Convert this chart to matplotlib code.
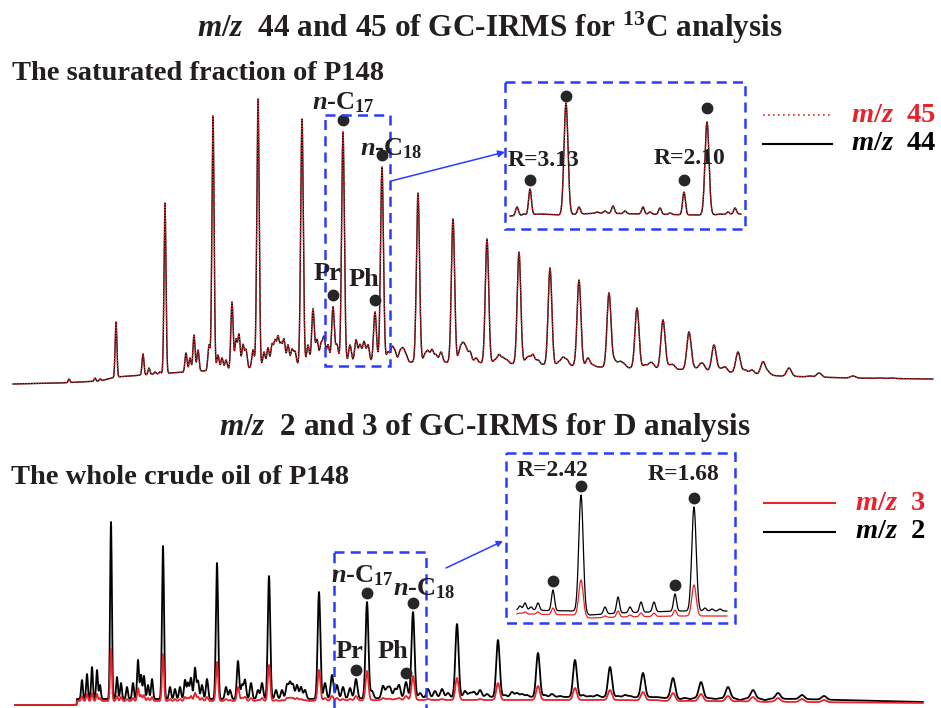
import numpy as np
import matplotlib
matplotlib.use("Agg")
import matplotlib.pyplot as plt
from matplotlib.patches import Rectangle, FancyArrowPatch

plt.rcParams['font.family'] = ['Liberation Serif', 'DejaVu Serif']
plt.rcParams['mathtext.fontset'] = 'custom'
plt.rcParams['mathtext.rm'] = 'Liberation Serif:bold'
plt.rcParams['mathtext.it'] = 'Liberation Serif:italic:bold'
plt.rcParams['mathtext.bf'] = 'Liberation Serif:bold'

W, H = 941, 708

# ---------------- DATA (retention in scan units, intensity in counts) -------------
# Top: m/z 44 / 45 chromatogram of saturated fraction
top_base_rt = [13, 60, 100, 116, 170, 250, 300, 350, 420, 490, 560, 600, 700, 780, 850, 932]
top_base_int = [6, 7, 9, 13, 17, 22, 25, 27, 28, 27, 25, 23, 20, 14, 12, 11]
top_major_rt = [116, 165, 213, 258, 302, 343, 382, 418, 453, 487, 519, 550, 579, 609,
                637, 663, 689, 714, 738, 763, 789, 819, 853, 892]
top_major_int = [68, 187, 274, 291, 271, 258, 223, 197, 171, 151, 138, 122, 110, 97,
                 82, 70, 58, 45, 38, 28, 22, 17, 14, 12]
top_minor_rt = [69, 95, 100, 143, 149, 155, 160, 186, 190, 194, 198, 209, 218, 222, 226,
                232, 236, 239, 243, 246, 253, 264, 268, 272, 275, 278, 281, 284, 288, 292,
                295, 308, 313, 317, 321, 324, 328, 333, 337, 350, 356, 360, 364, 368, 375,
                388, 392, 395, 400, 403, 406, 425, 428, 432, 436, 441, 460, 463, 466, 470,
                476, 495, 499, 503, 507, 526, 529, 533, 538, 559, 563, 567, 588, 593, 614,
                616, 620, 624, 645, 650, 653, 669, 673, 694, 700, 703, 720, 725, 745, 752,
                768, 810, 880]
top_minor_int = [11, 12, 11, 36, 22, 18, 18, 37, 32, 55, 40, 45, 35, 32, 30,
                 88, 50, 55, 45, 40, 40, 38, 42, 45, 48, 52, 45, 50, 45, 40,
                 38, 45, 81, 50, 45, 52, 45, 83, 45, 45, 50, 45, 48, 45, 78,
                 38, 42, 38, 38, 40, 35, 35, 38, 40, 35, 38, 40, 43, 40, 38,
                 32, 30, 35, 32, 30, 30, 32, 35, 30, 28, 32, 30, 32, 25, 28,
                 25, 28, 26, 25, 26, 25, 24, 25, 22, 24, 25, 21, 23, 20, 20,
                 18, 14, 12]

# Top inset (n-C17 / n-C18 zoom, m/z 44 and 45)
ti_base_rt = [510, 540, 560, 600, 640, 700, 740]
ti_base_int = [13, 15, 14, 16, 15, 14, 15]
ti_peak_rt = [517, 524, 530, 566, 579, 597, 605, 613, 625, 643, 650, 660, 670, 684, 707, 720, 728, 735]
ti_peak_int = [22, 15, 40, 126, 22, 17, 18, 23, 18, 22, 17, 21, 16, 37, 107, 15, 17, 21]

# Bottom: m/z 2 / 3 chromatogram of whole crude oil
bot_base_rt = [15, 76.5, 77, 100, 200, 300, 400, 470, 600, 700, 800, 920]
bot2_base_int = [0, 0, 6, 6, 6, 6, 7, 8, 8, 7, 6, 3]
bot3_base_int = [0, 0, 4, 4, 4, 4, 5, 5, 5, 4, 3, 2]
bot_major_rt = [111, 163, 217, 269, 319, 367, 413, 457, 498, 538, 575, 610, 643, 673,
                701, 728, 753, 778, 802, 824]
bot2_major_int = [183, 159, 142, 129, 113, 103, 93, 81, 65, 52, 45, 38, 32, 27,
                  23, 18, 15, 12, 10, 9]
bot3_major_int = [56, 51, 43, 40, 35, 34, 29, 27, 22, 19, 17, 15, 13, 12,
                  11, 9, 8, 7, 6, 5]
bot_minor_rt = [82, 87, 92, 97, 100, 117, 121, 127, 133, 138, 141, 144, 148, 152, 170,
                175, 180, 185, 188, 191, 195, 198, 202, 207, 226, 230, 238, 242, 245, 251,
                258, 262, 276, 282, 287, 290, 293, 297, 301, 305, 325, 332, 337, 343, 350,
                356, 372, 383, 387, 390, 395, 399, 406, 420, 428, 435, 442, 448, 465, 470,
                474, 480, 487, 505, 512, 517, 522, 527, 545, 552, 560, 583, 590, 597, 618,
                625, 630, 650, 656, 665, 680, 690, 715, 740, 765]
bot2_minor_int = [25, 31, 38, 35, 20, 28, 22, 18, 22, 45, 30, 29, 20, 26, 18,
                  16, 18, 25, 22, 27, 37, 24, 20, 26, 18, 15, 44, 20, 25, 22,
                  15, 22, 15, 15, 20, 22, 20, 20, 18, 15, 22, 30, 20, 18, 17,
                  26, 14, 19, 16, 17, 16, 20, 23, 12, 16, 14, 16, 12, 14, 12,
                  13, 15, 11, 10, 13, 12, 11, 10, 10, 11, 9, 10, 9, 10, 9,
                  10, 9, 8, 8, 7, 6, 6, 6, 5, 5]
bot3_minor_int = [9, 11, 12, 11, 7, 9, 8, 6, 7, 17, 10, 10, 7, 8, 6,
                  6, 6, 8, 7, 9, 12, 8, 7, 8, 6, 5, 18, 7, 8, 7,
                  5, 7, 5, 5, 7, 7, 7, 7, 6, 5, 7, 9, 7, 6, 6,
                  9, 5, 7, 6, 6, 6, 7, 9, 5, 6, 5, 6, 5, 5, 5,
                  5, 6, 5, 5, 5, 5, 5, 5, 5, 5, 5, 5, 5, 5, 5,
                  5, 5, 5, 5, 4, 4, 4, 4, 4, 3]

# Bottom inset (n-C17 / n-C18 zoom, m/z 2 and 3)
bi_base_rt = [517, 575, 590, 620, 680, 726]
bi2_base_int = [10, 9, 5, 7, 9, 9]
bi3_base_int = [6, 5, 2, 3, 4, 4]
bi_peak_rt = [520, 525, 531, 538, 553, 581, 605, 618, 630, 641, 654, 675, 694, 705, 712, 720]
bi2_peak_int = [14, 17, 13, 17, 30, 125, 13, 23, 13, 18, 18, 26, 113, 12, 11, 11]
bi3_peak_int = [7, 8, 6, 8, 12, 40, 4, 9, 5, 7, 7, 10, 35, 4, 4, 4]

RED = '#e8232b'
BLUE = '#2a3cff'
DOT = '#262626'


def trace(x, brt, bint, prt, pint, sig):
    y = np.interp(x, brt, bint).astype(float)
    for p, h in zip(prt, pint):
        amp = h - np.interp(p, brt, bint)
        s = sig(p)
        y += amp * np.exp(-0.5 * ((x - p) / s) ** 2)
    return y


def panel(x0, x1, yt, yb, y0):
    """axes occupying pixel box; x data = scan units, y data = intensity (y0 - pixel row)."""
    ax = fig.add_axes([x0 / W, 1 - yb / H, (x1 - x0) / W, (yb - yt) / H])
    ax.set_xlim(x0, x1)
    ax.set_ylim(y0 - yb, y0 - yt)
    ax.axis('off')
    ax.patch.set_alpha(0)
    return ax


fig = plt.figure(figsize=(W / 100, H / 100), dpi=100)

main_sig = lambda p: 0.85 + 0.0022 * max(p - 100, 0)

# ---------------- top chromatogram ----------------
axt = panel(0, W, 80, 395, 390)
xt = np.arange(13, 933, 0.2)
yt = trace(xt, top_base_rt, top_base_int,
           list(top_major_rt) + list(top_minor_rt), list(top_major_int) + list(top_minor_int),
           main_sig)
axt.plot(xt, yt, color='black', lw=1.0, zorder=2)
axt.plot(xt, yt, color=RED, lw=1.0, ls=(0, (1, 1)), zorder=3)
for rt in (333, 343, 375, 382):
    h = np.interp(rt, xt, yt)
    axt.plot(rt, h + 12, 'o', color=DOT, ms=7.5, zorder=5)

# ---------------- top inset ----------------
axi = panel(505, 745, 82, 229, 229)
xi = np.arange(510, 741, 0.2)
yi = trace(xi, ti_base_rt, ti_base_int, ti_peak_rt, ti_peak_int,
           lambda p: 2.0 if p in (566, 707) else 1.4)
axi.plot(xi, yi, color='black', lw=1.0, zorder=2)
axi.plot(xi, yi, color=RED, lw=1.0, ls=(0, (1, 1)), zorder=3)
for rt, off in ((530, 9), (566, 7), (684, 12), (707, 14)):
    h = np.interp(rt, xi, yi)
    axi.plot(rt, h + off, 'o', color=DOT, ms=7.5, zorder=5)

# ---------------- bottom chromatogram ----------------
axb = panel(0, W, 440, 708, 705)
xb = np.arange(15, 923, 0.2)
yb2 = trace(xb, bot_base_rt, bot2_base_int,
            list(bot_major_rt) + list(bot_minor_rt), list(bot2_major_int) + list(bot2_minor_int),
            main_sig)
yb3 = trace(xb, bot_base_rt, bot3_base_int,
            list(bot_major_rt) + list(bot_minor_rt), list(bot3_major_int) + list(bot3_minor_int),
            main_sig)
axb.plot(xb, yb2, color='black', lw=1.3, zorder=2)
axb.plot(xb, yb3, color=RED, lw=1.3, zorder=3)
for rt in (356, 367, 406, 413):
    h = np.interp(rt, xb, yb2)
    axb.plot(rt, h + 9, 'o', color=DOT, ms=7.5, zorder=5)

# ---------------- bottom inset ----------------
axj = panel(506, 735, 453, 623, 620)
xj = np.arange(517, 727, 0.2)
yj2 = trace(xj, bi_base_rt, bi2_base_int, bi_peak_rt, bi2_peak_int,
            lambda p: 2.2 if p in (581, 694) else 1.5)
yj3 = trace(xj, bi_base_rt, bi3_base_int, bi_peak_rt, bi3_peak_int,
            lambda p: 2.2 if p in (581, 694) else 1.5)
axj.plot(xj, yj2, color='black', lw=0.9, zorder=2)
axj.plot(xj, yj3, color=RED, lw=0.9, zorder=3)
for rt in (553, 581, 675, 694):
    h = np.interp(rt, xj, yj2)
    axj.plot(rt, h + 9, 'o', color=DOT, ms=7.5, zorder=5)

# ---------------- overlay for annotations (pixel coordinates) ----------------
ov = fig.add_axes([0, 0, 1, 1])
ov.set_xlim(0, W)
ov.set_ylim(H, 0)
ov.axis('off')
ov.patch.set_alpha(0)

dash = dict(fill=False, ec=BLUE, lw=1.8, ls=(0, (4, 2.5)), zorder=6)
ov.add_patch(Rectangle((325, 115), 65, 251, **dash))
ov.add_patch(Rectangle((505, 82), 240, 147, **dash))
ov.add_patch(Rectangle((334, 552), 92, 170, **dash))
ov.add_patch(Rectangle((506, 453), 229, 170, **dash))
ov.add_patch(FancyArrowPatch((391, 181), (505, 152), arrowstyle='-|>', mutation_scale=10,
                             color=BLUE, lw=1.1, shrinkA=0, shrinkB=0, zorder=6))
ov.add_patch(FancyArrowPatch((446, 568), (503, 541), arrowstyle='-|>', mutation_scale=9,
                             color=BLUE, lw=1.1, shrinkA=0, shrinkB=0, zorder=6))

TXT = dict(color='#231f20', fontweight='bold', zorder=7)
ov.text(490, 28, r'$m/z$  44 and 45 of GC-IRMS for $^{13}$C analysis', ha='center', va='center',
        fontsize=22.5, **TXT)
ov.text(12, 74, 'The saturated fraction of P148', ha='left', va='center', fontsize=20.5, **TXT)
ov.text(485, 427, r'$m/z$  2 and 3 of GC-IRMS for D analysis', ha='center', va='center',
        fontsize=22.5, **TXT)
ov.text(11, 478, 'The whole crude oil of P148', ha='left', va='center', fontsize=20.5, **TXT)

lab = dict(fontsize=19, va='center', ha='left', **TXT)
ov.text(312, 103, r'$n$-C$_{17}$', **lab)
ov.text(360, 149, r'$n$-C$_{18}$', **lab)
ov.text(314, 274, 'Pr', **lab)
ov.text(349, 280, 'Ph', **lab)
ov.text(331, 576, r'$n$-C$_{17}$', **lab)
ov.text(393, 589, r'$n$-C$_{18}$', **lab)
ov.text(336, 652, 'Pr', **lab)
ov.text(378, 652, 'Ph', **lab)

rl = dict(fontsize=17, va='center', ha='left', **TXT)
ov.text(508, 160, 'R=3.13', **rl)
ov.text(654, 158, 'R=2.10', **rl)
ov.text(517, 470, 'R=2.42', **rl)
ov.text(648, 475, 'R=1.68', **rl)

# legends
ov.plot([763, 830], [115, 115], color=RED, lw=1.2, ls=(0, (1, 2)))
ov.plot([763, 832], [144, 144], color='black', lw=1.5)
ov.text(851, 115, r'$m/z$  45', fontsize=20.5, va='center', ha='left', color=RED, fontweight='bold')
ov.text(851, 144, r'$m/z$  44', fontsize=20.5, va='center', ha='left', color='black', fontweight='bold')
ov.plot([764, 835], [503, 503], color=RED, lw=1.5)
ov.plot([764, 835], [532, 532], color='black', lw=1.5)
ov.text(855, 503, r'$m/z$  3', fontsize=20.5, va='center', ha='left', color=RED, fontweight='bold')
ov.text(855, 532, r'$m/z$  2', fontsize=20.5, va='center', ha='left', color='black', fontweight='bold')

fig.savefig('out.png', dpi=100)
